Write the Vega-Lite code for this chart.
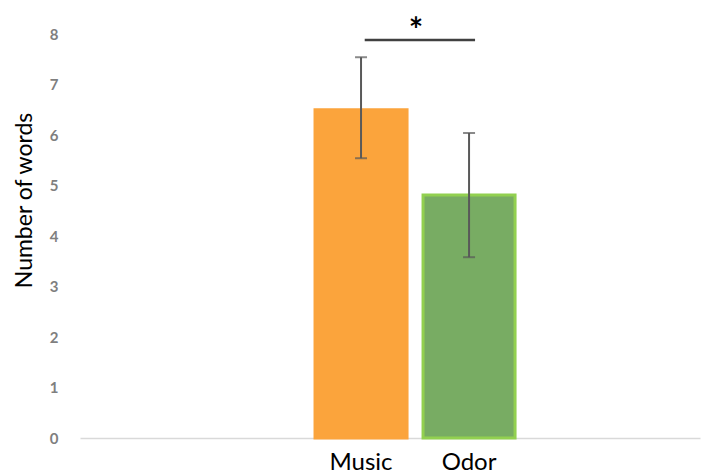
{
  "$schema": "https://vega.github.io/schema/vega-lite/v6.json",
  "autosize": "none",
  "width": 620,
  "height": 404,
  "padding": {"left": 80, "top": 34, "right": 16, "bottom": 37},
  "background": "white",
  "config": {"view": {"stroke": null}, "font": "Lato"},
  "datasets": {
    "bars": [
      {"group": "Music", "mean": 6.5, "lo": 5.54, "hi": 7.54},
      {"group": "Odor", "mean": 4.81, "lo": 3.58, "hi": 6.04}
    ],
    "sig": [
      {"from": "Music", "to": "Odor", "y": 7.88, "ylab": 8.2, "label": "*"}
    ]
  },
  "layer": [
    {
      "data": {"name": "bars"},
      "mark": {"type": "bar", "strokeWidth": 3},
      "encoding": {
        "x": {
          "field": "group",
          "type": "nominal",
          "scale": {"domain": ["p1", "p2", "Music", "Odor", "p3"], "paddingInner": 0.148, "paddingOuter": 0.444, "align": 0.198},
          "axis": {
            "title": null,
            "values": ["Music", "Odor"],
            "labelAngle": 0,
            "labelFontSize": 24,
            "labelColor": "black",
            "labelPadding": 12,
            "ticks": false,
            "domainColor": "#d9d9d9",
            "domainWidth": 1.5,
            "labelFont": "Lato"
          }
        },
        "y": {
          "field": "mean",
          "type": "quantitative",
          "scale": {"domain": [0, 8]},
          "axis": {
            "title": "Number of words",
            "titleFontSize": 23,
            "titleFontWeight": "normal",
            "titleColor": "black",
            "titleFont": "Lato",
            "titlePadding": 13,
            "titleY": 166,
            "values": [0, 1, 2, 3, 4, 5, 6, 7, 8],
            "grid": false,
            "ticks": false,
            "domain": false,
            "labelFontSize": 15,
            "labelColor": "#7f7f7f",
            "labelPadding": 22,
            "labelFont": "Lato",
            "labelFontWeight": "bold"
          }
        },
        "color": {
          "field": "group",
          "type": "nominal",
          "scale": {"domain": ["Music", "Odor"], "range": ["#FBA43C", "#78AC63"]},
          "legend": null
        },
        "stroke": {
          "field": "group",
          "type": "nominal",
          "scale": {"domain": ["Music", "Odor"], "range": ["#FBA43C", "#92D050"]},
          "legend": null
        }
      }
    },
    {
      "data": {"name": "bars"},
      "mark": {"type": "rule", "color": "#595959", "strokeWidth": 2},
      "encoding": {
        "x": {"field": "group", "type": "nominal", "bandPosition": 0.5},
        "y": {"field": "lo", "type": "quantitative"},
        "y2": {"field": "hi"}
      }
    },
    {
      "data": {"name": "bars"},
      "mark": {"type": "tick", "color": "#595959", "size": 12, "thickness": 2, "orient": "horizontal"},
      "encoding": {
        "x": {"field": "group", "type": "nominal", "bandPosition": 0.5},
        "y": {"field": "lo", "type": "quantitative"}
      }
    },
    {
      "data": {"name": "bars"},
      "mark": {"type": "tick", "color": "#595959", "size": 12, "thickness": 2, "orient": "horizontal"},
      "encoding": {
        "x": {"field": "group", "type": "nominal", "bandPosition": 0.5},
        "y": {"field": "hi", "type": "quantitative"}
      }
    },
    {
      "data": {"name": "sig"},
      "mark": {"type": "rule", "color": "#404040", "strokeWidth": 2.5, "x2Offset": 6},
      "encoding": {
        "x": {"field": "from", "type": "nominal", "bandPosition": 0.54},
        "x2": {"field": "to"},
        "y": {"field": "y", "type": "quantitative"}
      }
    },
    {
      "data": {"name": "sig"},
      "mark": {"type": "text", "fontSize": 34, "fontWeight": "bold", "color": "black", "baseline": "middle", "dx": -7, "dy": 8},
      "encoding": {
        "x": {"field": "to", "type": "nominal", "bandPosition": 0},
        "y": {"field": "ylab", "type": "quantitative"},
        "text": {"field": "label"}
      }
    }
  ],
  "resolve": {"scale": {"color": "independent", "stroke": "independent"}}
}
